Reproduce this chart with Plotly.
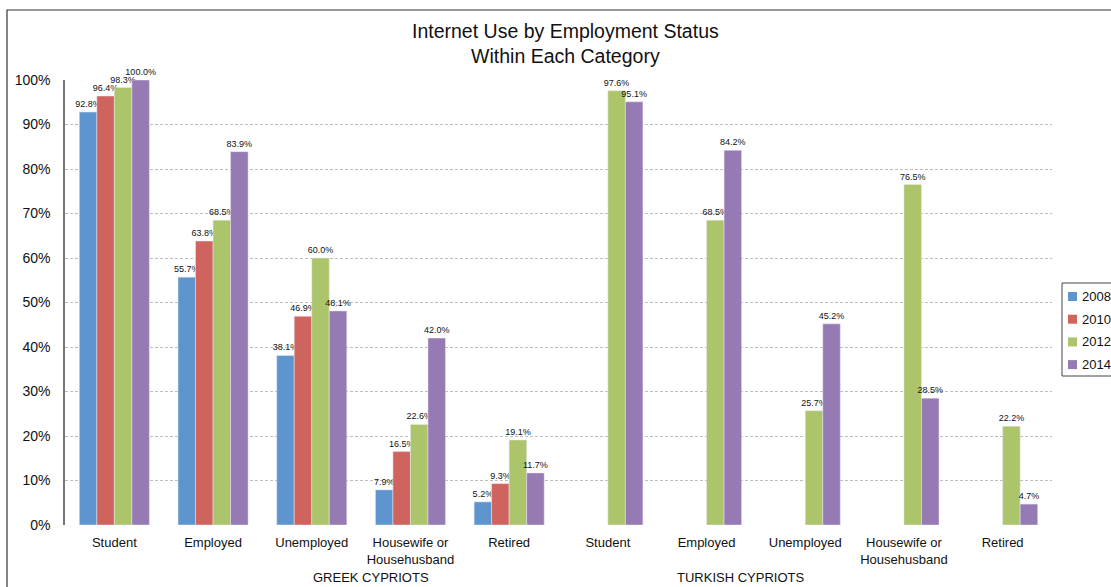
import plotly.graph_objects as go

categories = ["Student", "Employed", "Unemployed", "Housewife or<br>Househusband", "Retired",
              "Student", "Employed", "Unemployed", "Housewife or<br>Househusband", "Retired"]
groups = ["GREEK CYPRIOTS", "TURKISH CYPRIOTS"]
years = ["2008", "2010", "2012", "2014"]
v2008 = [92.8, 55.7, 38.1, 7.9, 5.2, None, None, None, None, None]
v2010 = [96.4, 63.8, 46.9, 16.5, 9.3, None, None, None, None, None]
v2012 = [98.3, 68.5, 60.0, 22.6, 19.1, 97.6, 68.5, 25.7, 76.5, 22.2]
v2014 = [100.0, 83.9, 48.1, 42.0, 11.7, 95.1, 84.2, 45.2, 28.5, 4.7]
yticks = list(range(0, 101, 10))
ytext = [f"{t}%" for t in yticks]
colors = ["#5E95CE", "#CF635D", "#ACC56A", "#957AB3"]

# plot area geometry (pixels) for paper-coordinate conversion
L, R, T, B = 65, 1052, 80, 525
def px(p):
    return (p - L) / (R - L)
def py(p):
    return (B - p) / (B - T)

x = list(range(len(categories)))
fig = go.Figure()
for name, vals, col in zip(years, [v2008, v2010, v2012, v2014], colors):
    fig.add_trace(go.Bar(
        x=x, y=vals, name=name, showlegend=False,
        marker=dict(color=col, line=dict(color="#E8E8F0", width=0.5)),
        texttemplate="%{y:.1f}%", textposition="outside", constraintext="none",
        textfont=dict(size=9, color="#111", family="Arial, Liberation Sans"),
        cliponaxis=False,
    ))

fig.update_layout(
    barmode="group", bargap=0.29, bargroupgap=0,
    width=1111, height=587,
    margin=dict(l=L, r=1111 - R, t=T, b=587 - B, autoexpand=False),
    paper_bgcolor="white", plot_bgcolor="white",
    font=dict(family="Arial, Liberation Sans", color="#111"),
    showlegend=False,
)
fig.add_annotation(text="Internet Use by Employment Status<br>Within Each Category",
                   x=px(565.5), xref="paper", y=py(43), yref="paper", yanchor="middle",
                   showarrow=False, font=dict(size=19.5, color="#111"))
fig.update_xaxes(tickvals=x, ticktext=categories, range=[-0.5, 9.5],
                 showgrid=False, zeroline=False, showline=False, ticks="",
                 ticklabelstandoff=8, tickfont=dict(size=13, color="#111"))
fig.update_yaxes(range=[0, 100], tickvals=yticks, ticktext=ytext,
                 showgrid=True, gridcolor="#BDBDBD", griddash="3px,2px", gridwidth=1,
                 zeroline=False, showline=True, linecolor="#777", linewidth=1.5,
                 ticks="", ticklabelstandoff=10, tickfont=dict(size=14, color="#111"))

for i, g in enumerate(groups):
    fig.add_annotation(text=g, x=0.25 + 0.5 * i, xref="paper", y=py(577.5), yref="paper",
                       yanchor="middle", showarrow=False, borderpad=0,
                       font=dict(size=13, color="#111"))

# outer chart border
fig.add_shape(type="rect", xref="paper", yref="paper", x0=px(7), y0=py(640), x1=px(1160), y1=py(10),
              line=dict(color="#333", width=1.2), layer="below")

# legend (box extends past the right edge, as in the reference)
fig.add_shape(type="rect", xref="paper", yref="paper", x0=px(1062), y0=py(376), x1=px(1130), y1=py(283),
              line=dict(color="#444", width=1), fillcolor="white", layer="above")
for k, (name, col) in enumerate(zip(years, colors)):
    cy = 296.5 + k * 22.7
    fig.add_shape(type="rect", xref="paper", yref="paper",
                  x0=px(1068), x1=px(1077), y0=py(cy + 4.5), y1=py(cy - 4.5),
                  line=dict(width=0), fillcolor=col, layer="above")
    fig.add_annotation(text=name, x=px(1079.5), xref="paper", y=py(cy), yref="paper",
                       xanchor="left", yanchor="middle", showarrow=False,
                       font=dict(size=13, color="#111"))

fig.write_html("out.html")
